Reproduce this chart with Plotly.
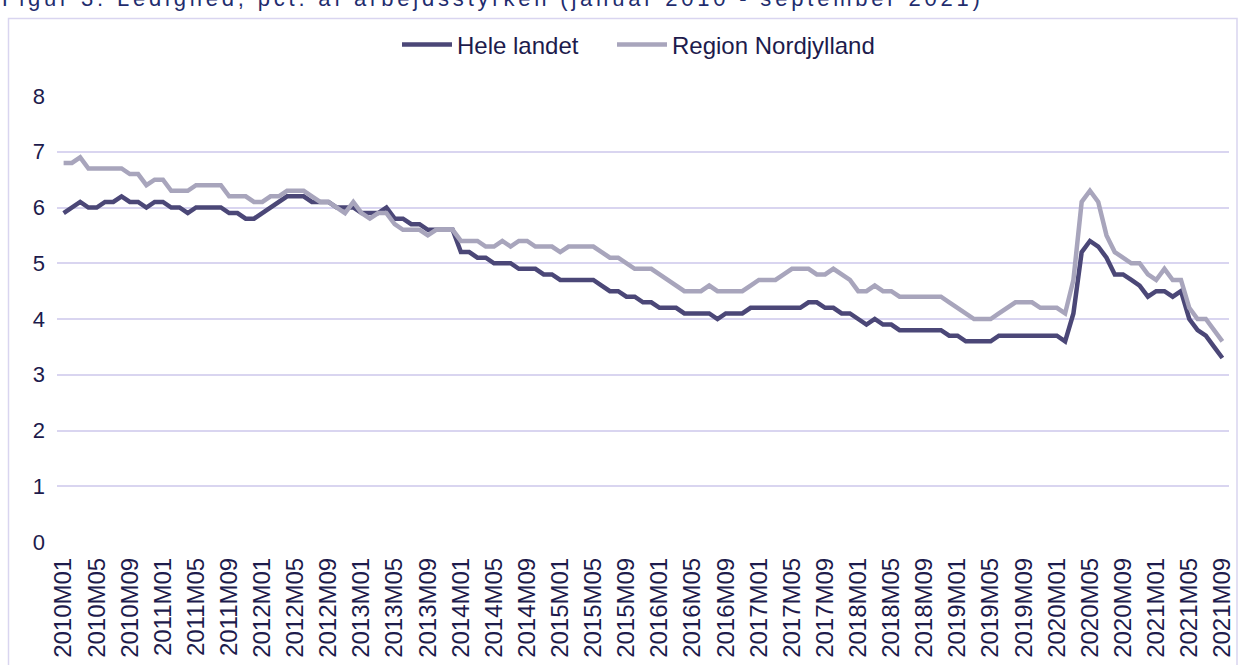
import plotly.graph_objects as go

# Month categories 2010M01 .. 2021M09
months = [f"{y}M{m:02d}" for y in range(2010, 2022) for m in range(1, 13)][:141]
tick_labels = months[::4]

hele_landet = [
    5.9, 6.0, 6.1, 6.0, 6.0, 6.1, 6.1, 6.2, 6.1, 6.1,
    6.0, 6.1, 6.1, 6.0, 6.0, 5.9, 6.0, 6.0, 6.0, 6.0,
    5.9, 5.9, 5.8, 5.8, 5.9, 6.0, 6.1, 6.2, 6.2, 6.2,
    6.1, 6.1, 6.1, 6.0, 6.0, 6.0, 5.9, 5.9, 5.9, 6.0,
    5.8, 5.8, 5.7, 5.7, 5.6, 5.6, 5.6, 5.6, 5.2, 5.2,
    5.1, 5.1, 5.0, 5.0, 5.0, 4.9, 4.9, 4.9, 4.8, 4.8,
    4.7, 4.7, 4.7, 4.7, 4.7, 4.6, 4.5, 4.5, 4.4, 4.4,
    4.3, 4.3, 4.2, 4.2, 4.2, 4.1, 4.1, 4.1, 4.1, 4.0,
    4.1, 4.1, 4.1, 4.2, 4.2, 4.2, 4.2, 4.2, 4.2, 4.2,
    4.3, 4.3, 4.2, 4.2, 4.1, 4.1, 4.0, 3.9, 4.0, 3.9,
    3.9, 3.8, 3.8, 3.8, 3.8, 3.8, 3.8, 3.7, 3.7, 3.6,
    3.6, 3.6, 3.6, 3.7, 3.7, 3.7, 3.7, 3.7, 3.7, 3.7,
    3.7, 3.6, 4.1, 5.2, 5.4, 5.3, 5.1, 4.8, 4.8, 4.7,
    4.6, 4.4, 4.5, 4.5, 4.4, 4.5, 4.0, 3.8, 3.7, 3.5, 3.3,
]

region_nordjylland = [
    6.8, 6.8, 6.9, 6.7, 6.7, 6.7, 6.7, 6.7, 6.6, 6.6,
    6.4, 6.5, 6.5, 6.3, 6.3, 6.3, 6.4, 6.4, 6.4, 6.4,
    6.2, 6.2, 6.2, 6.1, 6.1, 6.2, 6.2, 6.3, 6.3, 6.3,
    6.2, 6.1, 6.1, 6.0, 5.9, 6.1, 5.9, 5.8, 5.9, 5.9,
    5.7, 5.6, 5.6, 5.6, 5.5, 5.6, 5.6, 5.6, 5.4, 5.4,
    5.4, 5.3, 5.3, 5.4, 5.3, 5.4, 5.4, 5.3, 5.3, 5.3,
    5.2, 5.3, 5.3, 5.3, 5.3, 5.2, 5.1, 5.1, 5.0, 4.9,
    4.9, 4.9, 4.8, 4.7, 4.6, 4.5, 4.5, 4.5, 4.6, 4.5,
    4.5, 4.5, 4.5, 4.6, 4.7, 4.7, 4.7, 4.8, 4.9, 4.9,
    4.9, 4.8, 4.8, 4.9, 4.8, 4.7, 4.5, 4.5, 4.6, 4.5,
    4.5, 4.4, 4.4, 4.4, 4.4, 4.4, 4.4, 4.3, 4.2, 4.1,
    4.0, 4.0, 4.0, 4.1, 4.2, 4.3, 4.3, 4.3, 4.2, 4.2,
    4.2, 4.1, 4.7, 6.1, 6.3, 6.1, 5.5, 5.2, 5.1, 5.0,
    5.0, 4.8, 4.7, 4.9, 4.7, 4.7, 4.2, 4.0, 4.0, 3.8, 3.6,
]

series_names = ["Hele landet", "Region Nordjylland"]
title_text = "Figur 3. Ledighed, pct. af arbejdsstyrken (januar 2010 - september 2021)"

DARK = "#4b4777"
GREY = "#a8a5bc"
TEXT = "#1d1b4c"
GRID = "#d9d5f0"
FONT = "Liberation Sans, Arial, sans-serif"

W, H = 1245, 665
L, R, T, B = 57, 16, 96, 123
plot_w = W - L - R
plot_h = H - T - B


def px_x(px):
    return (px - L) / plot_w


def px_y(py):
    return (H - B - py) / plot_h


fig = go.Figure()
fig.add_trace(go.Scatter(x=months, y=hele_landet, name=series_names[0], mode="lines",
                         line=dict(color=DARK, width=4.5), legend="legend"))
fig.add_trace(go.Scatter(x=months, y=region_nordjylland, name=series_names[1], mode="lines",
                         line=dict(color=GREY, width=4.5), legend="legend2"))

legend_common = dict(orientation="h", xanchor="left", yanchor="middle", y=px_y(45),
                     font=dict(size=24, color=TEXT), bgcolor="rgba(0,0,0,0)",
                     itemwidth=50)

fig.update_layout(
    width=W, height=H,
    margin=dict(l=L, r=R, t=T, b=B, autoexpand=False),
    paper_bgcolor="white", plot_bgcolor="white",
    font=dict(family=FONT, size=22, color=TEXT),
    showlegend=True,
    legend=dict(x=px_x(397), **legend_common),
    legend2=dict(x=px_x(612), **legend_common),
    xaxis=dict(type="category", range=[-0.8, 140.8], tickmode="array",
               tickvals=tick_labels, ticktext=tick_labels, tickangle=-90,
               showgrid=False, zeroline=False, showline=False, ticks="",
               tickfont=dict(size=24, color=TEXT), automargin=False,
               ticklabelstandoff=10),
    yaxis=dict(range=[0, 8], tickmode="linear", tick0=0, dtick=1,
               showgrid=True, gridcolor=GRID, gridwidth=1.5, zeroline=False,
               showline=False, ticks="", tickfont=dict(size=22, color=TEXT),
               automargin=False, ticklabelstandoff=11),
    shapes=[dict(type="rect", xref="paper", yref="paper",
                 x0=px_x(8.5), x1=px_x(1237), y0=px_y(680), y1=px_y(18.5),
                 line=dict(color=GRID, width=1.5), fillcolor="rgba(0,0,0,0)", layer="below")],
    annotations=[dict(text=f'<span style="letter-spacing:3.8px">{title_text}</span>',
                      xref="paper", yref="paper", x=px_x(0), y=px_y(13),
                      xanchor="left", yanchor="bottom", showarrow=False,
                      font=dict(size=22, color="#1f2d6e", family=FONT))],
)

fig.write_html("out.html", config={"displayModeBar": False},
               post_script="document.body.style.margin='0';document.body.style.overflow='hidden';")
